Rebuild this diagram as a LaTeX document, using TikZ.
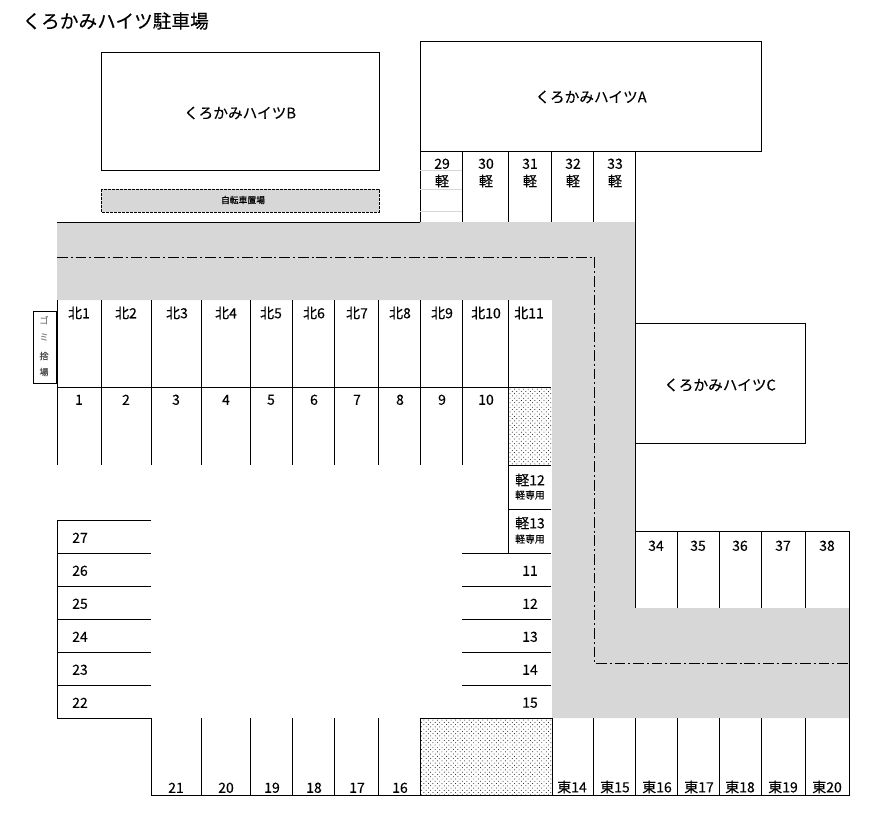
\documentclass[tikz,border=0pt]{standalone}
\usepackage{fontspec}
\setmainfont[FakeBold=.25]{Noto Sans CJK JP}
\usetikzlibrary{patterns}
\definecolor{roadgray}{RGB}{215,215,215}
\definecolor{faintline}{RGB}{215,215,215}
\pgfdeclarepatternformonly{sparsedots}{\pgfqpoint{-1pt}{-1pt}}{\pgfqpoint{2.4pt}{2.4pt}}{\pgfqpoint{3.4pt}{3.4pt}}{
  \pgfpathcircle{\pgfqpoint{0pt}{0pt}}{.36pt}
  \pgfpathcircle{\pgfqpoint{1.7pt}{1.7pt}}{.36pt}
  \pgfusepath{fill}
}
\tikzset{
  lbl/.style={inner sep=0pt,font=\fontsize{10.5}{12}\selectfont},
  numlbl/.style={lbl,yshift=-.6pt},
  bldg/.style={inner sep=0pt,font=\fontsize{11}{12}\selectfont},
  tiny/.style={inner sep=0pt,font=\fontsize{6.6}{8}\selectfont},
  smalllbl/.style={inner sep=0pt,font=\fontsize{7.4}{8}\selectfont},
}
\begin{document}
\begin{tikzpicture}[x=.75pt,y=-.75pt,line width=.75pt]
  \useasboundingbox (0,0) rectangle (887,813);
  \node[anchor=west,inner sep=0pt,font=\fontsize{14}{16}\selectfont] (title) at (22,21) {くろかみハイツ駐車場};
  % road
  \fill[roadgray] (57,222)--(635,222)--(635,608)--(849,608)--(849,718)--(552,718)--(552,300)--(57,300)--cycle;
  \draw[dash pattern=on 8pt off 2.2pt on 1.5pt off 2.2pt] (57,257)--(594,257)--(594,663)--(849,663);
  % buildings
  \draw (101,52.5) rectangle (379,170);
  \draw (420,41.5) rectangle (761,151);
  \draw (635,323)--(805,323)--(805,443)--(635,443);
  \node[bldg] (bldgB) at (240,113) {くろかみハイツB};
  \node[bldg] (bldgA) at (591,97) {くろかみハイツA};
  \node[bldg] (bldgC) at (720,385) {くろかみハイツC};
  % bicycles, rubbish
  \draw[fill=roadgray,dash pattern=on 2pt off 1pt] (101,189) rectangle (379,212);
  \node[tiny] (bike) at (243,200) {自転車置場};
  \draw (33,311) rectangle (56,383);
  \foreach \y/\t/\c in {320/ゴ/gray,337/ミ/gray,356/捨/black!70,372/場/black!70}
    \node[inner sep=0pt,text=\c,font=\fontsize{6.8}{8}\selectfont] (gomi\y) at (44,\y) {\t};
  % outline
  \draw (57,222)--(420,222);
  \draw (635,151)--(635,608);
  \draw (635,531)--(849,531)--(849,795)--(151,795);
  % spaces at the top
  \foreach \x in {420,462,508,551,593} \draw (\x,151)--(\x,222);
  \foreach \y in {170,189,211} \draw[faintline] (420,\y)--(462,\y);
  \foreach \x/\n in {442/29,486/30,530/31,573/32,615/33} {
    \node[numlbl] (top\n) at (\x,163) {\n};
    \node[lbl] (kei\n) at (\x,181) {軽};
  }
  % north row
  \foreach \x in {57,101,151,201,250,292,334,378,420,462} \draw (\x,300)--(\x,465);
  \draw (508,300)--(508,553);
  \draw (57,387)--(551,387);
  \foreach \x/\n in {79/1,126/2,177/3,226/4,271/5,314/6,357/7,400/8,442/9,486/10,529/11}
    \node[lbl] (north\n) at (\x,313) {北\n};
  \foreach \x/\n in {79/1,126/2,176/3,226/4,271/5,314/6,357/7,400/8,442/9,486/10}
    \node[numlbl] (num\n) at (\x,399) {\n};
  % dotted plots
  \fill[pattern=sparsedots] (508,387) rectangle (551,465);
  \fill[pattern=sparsedots] (420,718) rectangle (552,795);
  \draw (420,718)--(552,718);
  % light car spaces
  \foreach \y in {465,509,553} \draw (508,\y)--(551,\y);
  \node[lbl] (kei12) at (530,480) {軽12};
  \node[smalllbl] (sen12) at (530,495) {軽専用};
  \node[lbl] (kei13) at (530,523) {軽13};
  \node[smalllbl] (sen13) at (530,539) {軽専用};
  % left block
  \draw (151,520)--(57,520)--(57,718)--(151,718);
  \foreach \y in {553,586,619,652,685} \draw (57,\y)--(151,\y);
  \foreach \y/\n in {537/27,570/26,603/25,636/24,669/23,702/22}
    \node[numlbl] (left\n) at (80,\y) {\n};
  % right block
  \foreach \y in {553,586,619,652,685} \draw (462,\y)--(551,\y);
  \foreach \y/\n in {570/11,603/12,636/13,669/14,702/15}
    \node[numlbl] (right\n) at (530,\y) {\n};
  % bottom row
  \foreach \x in {151,201,250,292,334,378,420,552,593,635,677,719,761,805} \draw (\x,718)--(\x,795);
  \foreach \x/\n in {176/21,226/20,272/19,314/18,357/17,400/16}
    \node[numlbl] (bot\n) at (\x,787) {\n};
  \foreach \x/\n in {572/14,615/15,657/16,699/17,740/18,783/19,827/20}
    \node[lbl] (east\n) at (\x,787) {東\n};
  % east row
  \foreach \x in {677,719,761,805} \draw (\x,531)--(\x,608);
  \foreach \x/\n in {656/34,698/35,740/36,783/37,827/38}
    \node[numlbl] (row\n) at (\x,545) {\n};
\end{tikzpicture}
\end{document}
